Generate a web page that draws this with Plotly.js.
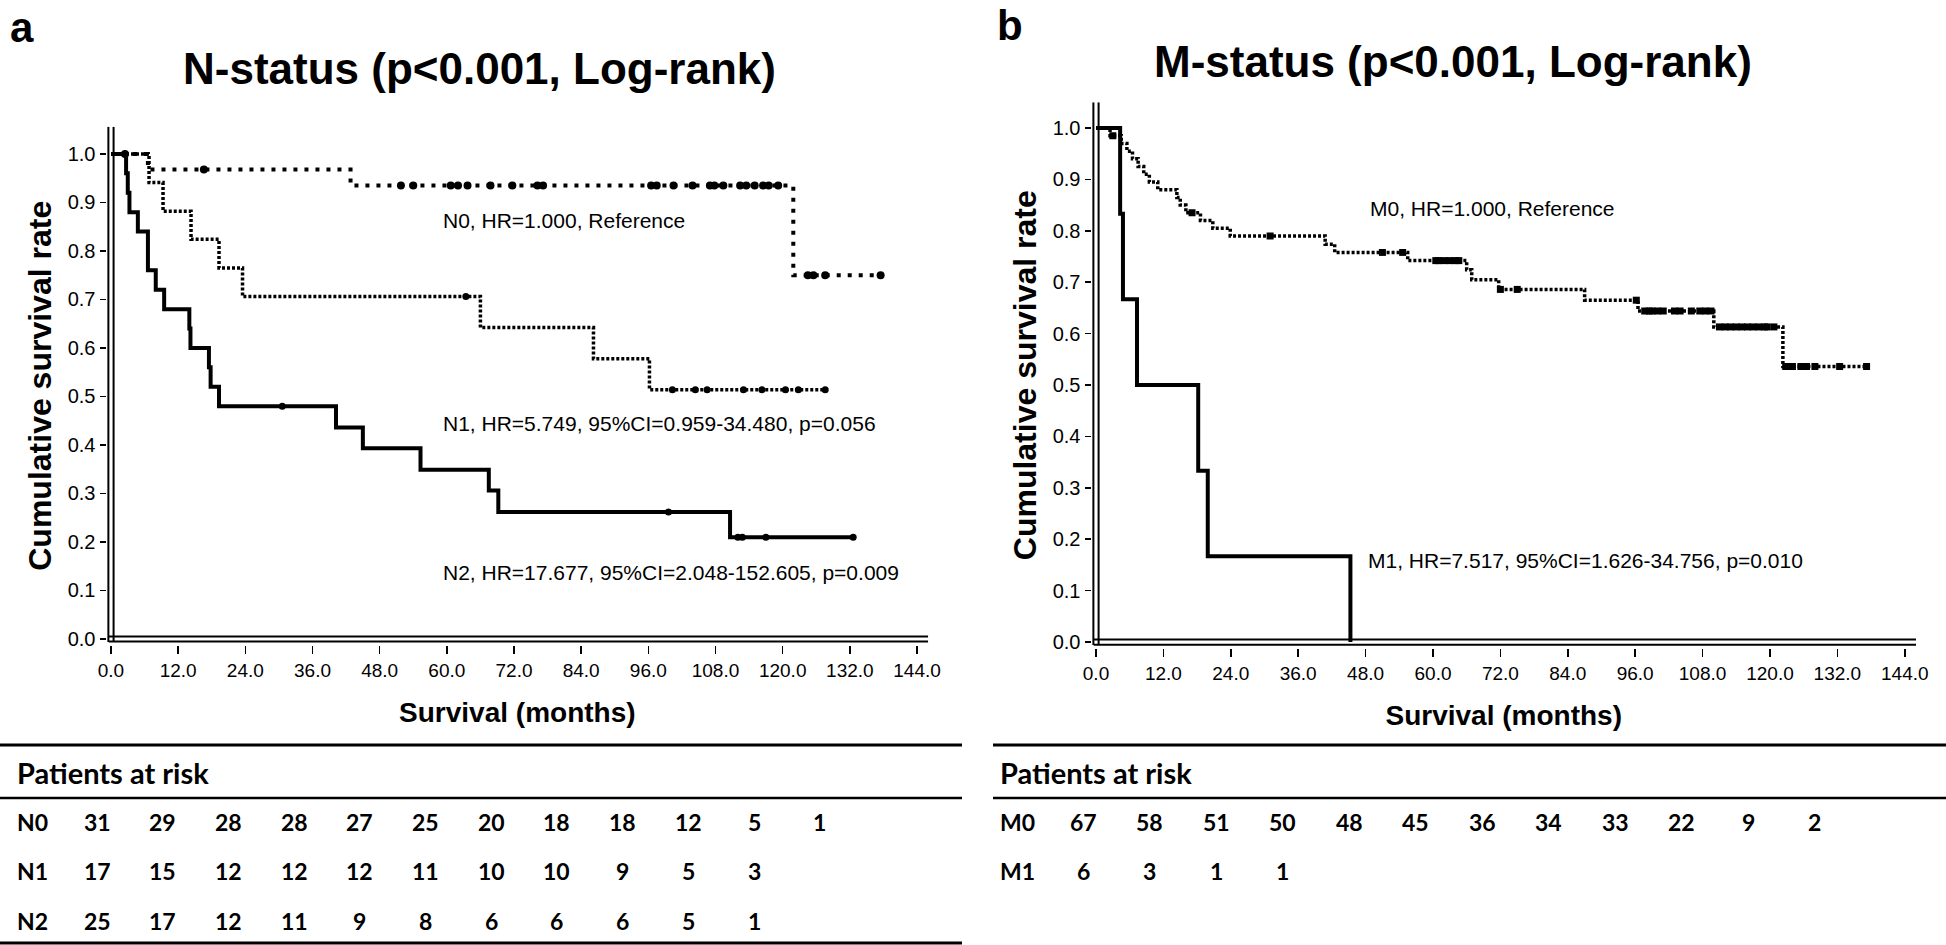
<!DOCTYPE html>
<html>
<head>
<meta charset="utf-8">
<script src="https://cdn.plot.ly/plotly-3.0.1.min.js"></script>
<style>
  html, body { margin: 0; padding: 0; background: #fff; }
  #chart { width: 1946px; height: 945px; }
</style>
</head>
<body>
<div id="chart"></div>
<script>
// ---- data (months / survival) ----
var n0Times = [6.6, 42.8, 121.9];
var n0Surv = [0.968, 0.935, 0.750];
var n0Censor = [2.5, 16.6, 51.8, 54, 60.7, 62, 63.7, 67.8, 71.7, 76.2, 77.2, 96.5, 97.5, 100.5, 103.9, 107,
                107.8, 109.4, 112.4, 113.5, 115, 116.5, 117.5, 119.2, 124.5, 125.5, 127.6, 137.5];

var n1Times = [6.8, 9.3, 14.3, 19.3, 23.5, 66, 86.2, 96.2];
var n1Surv = [0.941, 0.882, 0.824, 0.765, 0.706, 0.642, 0.578, 0.514];
var n1Censor = [63.4, 100.3, 104.4, 106.5, 113, 116.3, 120.5, 122.8, 127.6];

var n2Times = [2.7, 3.0, 3.3, 4.8, 6.6, 6.6, 8.0, 9.5, 14.0, 14.2, 17.5, 17.8, 19.3, 40.2, 45, 55.3, 67.5, 69.2, 110.6];
var n2Surv = [0.96, 0.92, 0.88, 0.84, 0.80, 0.76, 0.72, 0.68, 0.64, 0.60, 0.56, 0.52, 0.48, 0.436, 0.393, 0.349, 0.306, 0.262, 0.210];
var n2Censor = [30.6, 99.6, 112, 112.8, 117, 132.6];

var m0Times = [2.5, 4.5, 5.5, 6.5, 7.5, 8.5, 9.5, 11, 14.4, 15.0, 16.0, 18.6, 20.8, 23.9, 40.8, 42.5, 55.5,
               66.0, 66.9, 71.7, 87, 96.5, 110, 122.3];
var m0Surv = [0.985, 0.970, 0.955, 0.940, 0.925, 0.910, 0.895, 0.880, 0.865, 0.850, 0.835, 0.820, 0.805, 0.790,
              0.774, 0.758, 0.742, 0.724, 0.705, 0.686, 0.665, 0.644, 0.613, 0.536];
var m0Censor = [3.0, 17.1, 31.0, 51.0, 54.6, 60.5, 61, 62, 63, 64, 64.6, 72, 75, 96.2, 97.7, 98.5, 99, 100, 101,
                103, 104, 106, 107.5, 108.5, 109.5, 111, 112, 113, 114, 115, 116, 117, 118, 119, 119.5,
                120.7, 122.8, 124, 125.5, 126.5, 128, 132.4, 137.2];

var m1Times = [4.3, 4.8, 7.3, 18.2, 19.9, 45.3];
var m1Surv = [0.833, 0.667, 0.5, 0.333, 0.167, 0.0];
var m1Censor = [];

var xTicks = [0, 12, 24, 36, 48, 60, 72, 84, 96, 108, 120, 132, 144];
var yTicks = [0, 0.1, 0.2, 0.3, 0.4, 0.5, 0.6, 0.7, 0.8, 0.9, 1.0];

var nLabels = ['N0', 'N1', 'N2'];
var nRisk = [
  [31, 29, 28, 28, 27, 25, 20, 18, 18, 12, 5, 1],
  [17, 15, 12, 12, 12, 11, 10, 10, 9, 5, 3],
  [25, 17, 12, 11, 9, 8, 6, 6, 6, 5, 1]
];
var mLabels = ['M0', 'M1'];
var mRisk = [
  [67, 58, 51, 50, 48, 45, 36, 34, 33, 22, 9, 2],
  [6, 3, 1, 1]
];

var nNotes = ['N0, HR=1.000, Reference',
              'N1, HR=5.749, 95%CI=0.959-34.480, p=0.056',
              'N2, HR=17.677, 95%CI=2.048-152.605, p=0.009'];
var mNotes = ['M0, HR=1.000, Reference',
              'M1, HR=7.517, 95%CI=1.626-34.756, p=0.010'];

// ---- helpers ----
var W = 1946, H = 945;
var fontMain = 'Liberation Sans, Arial, sans-serif';
var fontTable = 'Lato, Open Sans, sans-serif';

function px(x) { return x / W; }
function py(y) { return 1 - y / H; }

function stepCurve(times, surv, endT) {
  var x = [0].concat(times);
  var y = [1].concat(surv);
  if (endT !== null && endT > times[times.length - 1]) {
    x.push(endT);
    y.push(surv[surv.length - 1]);
  }
  return {x: x, y: y};
}

function survAt(t, times, surv) {
  var s = 1;
  for (var i = 0; i < times.length; i++) {
    if (times[i] < t) s = surv[i];
  }
  return s;
}

function kmTraces(times, surv, cens, xa, ya, dash, width, sym, msize) {
  var endT = cens.length ? Math.max.apply(null, cens) : null;
  var c = stepCurve(times, surv, endT);
  var line = {
    x: c.x, y: c.y, xaxis: xa, yaxis: ya, mode: 'lines',
    line: {shape: 'hv', color: '#000', width: width, dash: dash},
    hoverinfo: 'skip', showlegend: false
  };
  var marks = {
    x: cens, y: cens.map(function (t) { return survAt(t, times, surv); }),
    xaxis: xa, yaxis: ya, mode: 'markers',
    marker: {symbol: sym, size: msize, color: '#000'},
    hoverinfo: 'skip', showlegend: false
  };
  return [line, marks];
}

var data = []
  .concat(kmTraces(n0Times, n0Surv, n0Censor, 'x', 'y', '4px,7px', 4, 'circle', 8))
  .concat(kmTraces(n1Times, n1Surv, n1Censor, 'x', 'y', '3px,2px', 3.5, 'circle', 7))
  .concat(kmTraces(n2Times, n2Surv, n2Censor, 'x', 'y', 'solid', 4, 'circle', 7))
  .concat(kmTraces(m0Times, m0Surv, m0Censor, 'x2', 'y2', '3px,2px', 3.5, 'square', 7))
  .concat(kmTraces(m1Times, m1Surv, m1Censor, 'x2', 'y2', 'solid', 4, 'circle', 7));

// ---- axes ----
var xRange = [-0.8, 146];
var yRangeA = [-0.012, 1.056];
var yRangeB = [-0.012, 1.05];

function xAxis(domain, anchor) {
  return {
    domain: domain, anchor: anchor, range: xRange,
    tickvals: xTicks, tickformat: '.1f',
    ticks: 'outside', ticklen: 8, tickwidth: 1.5, tickcolor: '#000',
    showline: false, zeroline: false, showgrid: false,
    tickfont: {family: fontMain, size: 19, color: '#000'},
    title: {text: '<b>Survival (months)</b>', standoff: 22,
            font: {family: fontMain, size: 28, color: '#000'}}
  };
}
function yAxis(domain, anchor, range) {
  return {
    domain: domain, anchor: anchor, range: range,
    tickvals: yTicks, tickformat: '.1f',
    ticks: 'outside', ticklen: 6, tickwidth: 1.5, tickcolor: '#000',
    showline: false, zeroline: false, showgrid: false,
    tickfont: {family: fontMain, size: 20, color: '#000'},
    title: {text: '<b>Cumulative survival rate</b>', standoff: 6,
            font: {family: fontMain, size: 32, color: '#000'}}
  };
}

// double axis lines like the SPSS frame
function doubleAxes(xr, yr, yTop) {
  var out = [];
  [-2.6, 2.6].forEach(function (off) {
    out.push({type: 'line', xref: xr, yref: yr, xsizemode: 'pixel', xanchor: 0,
              x0: off, x1: off, y0: -0.006, y1: yTop, line: {color: '#000', width: 2}});
    out.push({type: 'line', xref: xr, yref: yr, ysizemode: 'pixel', yanchor: 0,
              y0: off, y1: off, x0: -0.4, x1: xRange[1], line: {color: '#000', width: 2}});
  });
  return out;
}

var shapes = doubleAxes('x', 'y', yRangeA[1]).concat(doubleAxes('x2', 'y2', yRangeB[1]));

// table rules
function hline(x0, x1, y, w) {
  return {type: 'line', xref: 'paper', yref: 'paper', x0: px(x0), x1: px(x1), y0: py(y), y1: py(y),
          line: {color: '#000', width: w}};
}
shapes.push(hline(0, 962, 745, 3), hline(0, 962, 798, 2.5), hline(0, 962, 943, 3));
shapes.push(hline(993, W, 745, 3), hline(993, W, 798, 2.5));

// ---- annotations ----
var ann = [];
function txt(x, y, s, size, family, anchor) {
  return {xref: 'paper', yref: 'paper', x: px(x), y: py(y), text: s, showarrow: false,
          xanchor: anchor || 'center', yanchor: 'middle',
          font: {family: family || fontMain, size: size, color: '#000'}};
}

ann.push(txt(22, 27, '<b>a</b>', 42));
ann.push(txt(1010, 25, '<b>b</b>', 42));
ann.push(txt(479, 68, '<b>N-status (p<0.001, Log-rank)</b>', 44));
ann.push(txt(1453, 62, '<b>M-status (p<0.001, Log-rank)</b>', 44));

// curve notes (placed in data space)
var nNoteY = [0.862, 0.445, 0.138];
nNotes.forEach(function (s, i) {
  ann.push({xref: 'x', yref: 'y', x: 59, y: nNoteY[i], text: s, showarrow: false,
            xanchor: 'left', yanchor: 'middle', font: {family: fontMain, size: 21, color: '#000'}});
});
var mNoteY = [0.844, 0.158];
var mNoteX = [48.5, 48];
mNotes.forEach(function (s, i) {
  ann.push({xref: 'x2', yref: 'y2', x: mNoteX[i], y: mNoteY[i], text: s, showarrow: false,
            xanchor: 'left', yanchor: 'middle', font: {family: fontMain, size: 21, color: '#000'}});
});

// patients at risk tables
var rowY = [822, 871, 921];
function riskTable(x0Label, col0, step, labels, rows) {
  ann.push(txt(x0Label, 772, '<b>Patients at risk</b>', 29, fontTable, 'left'));
  labels.forEach(function (lab, r) {
    ann.push(txt(x0Label, rowY[r], '<b>' + lab + '</b>', 23, fontTable, 'left'));
    rows[r].forEach(function (v, c) {
      ann.push(txt(col0 + c * step, rowY[r], '<b>' + v + '</b>', 23, fontTable, 'center'));
    });
  });
}
riskTable(15, 97, 65.7, nLabels, nRisk);
riskTable(998, 1083, 66.5, mLabels, mRisk);

var layout = {
  width: W, height: H,
  margin: {l: 0, r: 0, t: 0, b: 0},
  paper_bgcolor: '#fff', plot_bgcolor: '#fff',
  showlegend: false,
  xaxis: xAxis([px(106.5), px(928.2)], 'y'),
  yaxis: yAxis([py(644.8), py(126.8)], 'x', yRangeA),
  xaxis2: xAxis([px(1091.5), px(1916)], 'y2'),
  yaxis2: yAxis([py(648.2), py(102.3)], 'x2', yRangeB),
  shapes: shapes,
  annotations: ann
};

Plotly.newPlot('chart', data, layout, {staticPlot: true, displayModeBar: false});
</script>
</body>
</html>
